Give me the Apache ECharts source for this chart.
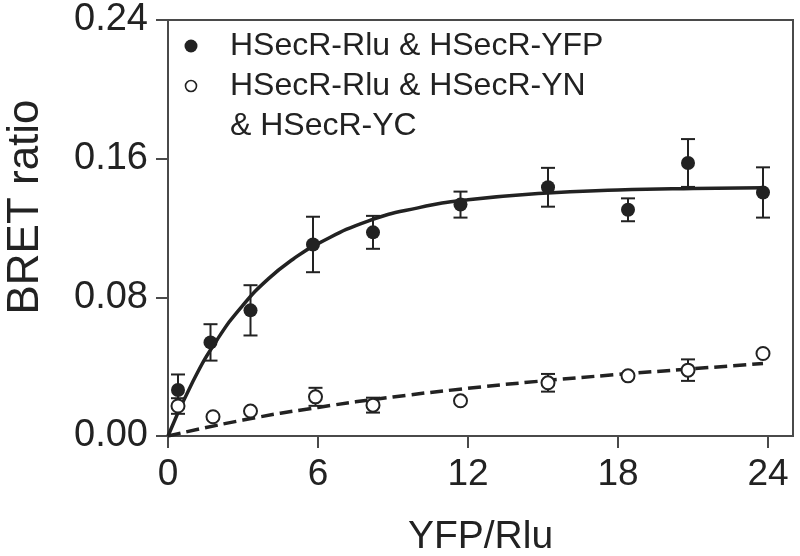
<!DOCTYPE html>
<html>
<head>
<meta charset="utf-8">
<script src="https://cdn.jsdelivr.net/npm/echarts@6/dist/echarts.min.js"></script>
<style>
  html, body { margin: 0; padding: 0; background: #fff; }
  #chart { width: 800px; height: 556px; }
</style>
</head>
<body>
<div id="chart"></div>
<script>
  // data
  const xTicks = [0, 6, 12, 18, 24]
  const yTicks = [0, 0.08, 0.16, 0.24]

  // HSecR-Rlu & HSecR-YFP (filled)
  const xFilled = [0.4, 1.7, 3.3, 5.8, 8.2, 11.7, 15.2, 18.4, 20.8, 23.8]
  const yFilled = [0.0265, 0.054, 0.0725, 0.1105, 0.1175, 0.1335, 0.1435, 0.1305, 0.1575, 0.1405]
  const errFilled = [0.009, 0.0105, 0.0145, 0.016, 0.0095, 0.0075, 0.0112, 0.0066, 0.0138, 0.0145]

  // HSecR-Rlu & HSecR-YN & HSecR-YC (open)
  const xOpen = [0.4, 1.8, 3.3, 5.9, 8.2, 11.7, 15.2, 18.4, 20.8, 23.8]
  const yOpen = [0.0173, 0.0111, 0.0144, 0.0226, 0.0178, 0.0203, 0.0307, 0.0347, 0.038, 0.0476]
  const errOpen = [0.0045, 0, 0, 0.0052, 0.0043, 0, 0.0051, 0, 0.0062, 0]

  // fitted curves (traced)
  const fitFilledX = [0, 1, 2, 3, 4, 5, 6, 8, 10, 12, 15, 18, 21, 23.8]
  const fitFilledY = [0, 0.0316, 0.0563, 0.0755, 0.0905, 0.102, 0.111, 0.124, 0.1316, 0.1363, 0.1401, 0.1419, 0.1428, 0.1432]
  const fitOpenX = [0, 3, 6, 9, 12, 15, 18, 21, 23.8]
  const fitOpenY = [0, 0.0092, 0.0165, 0.0225, 0.0275, 0.0318, 0.0355, 0.0388, 0.0418]

  const legendNames = ['HSecR-Rlu & HSecR-YFP', 'HSecR-Rlu & HSecR-YN', '& HSecR-YC']
  const xName = 'YFP/Rlu'
  const yName = 'BRET ratio'

  const ink = '#222'
  const axisInk = '#4a4a4a'
  const font = 'Liberation Sans, Arial, Helvetica, sans-serif'

  const zip = (a, b) => a.map((v, i) => [v, b[i]])
  const errData = (xs, ys, es) => xs.map((x, i) => [x, ys[i] - es[i], ys[i] + es[i], es[i]])

  function renderErrorBar(params, api) {
    if (api.value(3) <= 0) return
    const top = api.coord([api.value(0), api.value(2)])
    const bot = api.coord([api.value(0), api.value(1)])
    const half = 7
    const style = { stroke: ink, lineWidth: 2 }
    return {
      type: 'group',
      children: [
        { type: 'line', shape: { x1: top[0], y1: top[1], x2: bot[0], y2: bot[1] }, style },
        { type: 'line', shape: { x1: top[0] - half, y1: top[1], x2: top[0] + half, y2: top[1] }, style },
        { type: 'line', shape: { x1: bot[0] - half, y1: bot[1], x2: bot[0] + half, y2: bot[1] }, style }
      ]
    }
  }

  const chart = echarts.init(document.getElementById('chart'))
  const option = {
    animation: false,
    backgroundColor: '#fff',
    grid: {
      left: 168, right: 7, top: 20, bottom: 120,
      outerBoundsMode: 'none',
      show: true, borderColor: axisInk, borderWidth: 2
    },
    xAxis: {
      type: 'value',
      min: 0,
      max: 25,
      splitLine: { show: false },
      axisLine: { onZero: false, lineStyle: { color: axisInk, width: 2 } },
      axisTick: { customValues: xTicks, length: 12, lineStyle: { color: axisInk, width: 2 } },
      axisLabel: { customValues: xTicks, color: ink, fontSize: 37, fontFamily: font, margin: 20 },
      name: xName,
      nameLocation: 'middle',
      nameGap: 82,
      nameTextStyle: { color: ink, fontSize: 39, fontFamily: font }
    },
    yAxis: {
      type: 'value',
      min: 0,
      max: 0.24,
      interval: 0.08,
      splitLine: { show: false },
      axisLine: { lineStyle: { color: axisInk, width: 2 } },
      axisTick: { length: 12, lineStyle: { color: axisInk, width: 2 } },
      axisLabel: {
        color: ink, fontSize: 38, fontFamily: font, margin: 20,
        formatter: v => v.toFixed(2)
      }
    },
    graphic: [
      {
        type: 'text', x: 26, y: 207, rotation: Math.PI / 2,
        style: { text: yName, fill: ink, font: '44px ' + font, textAlign: 'center', textVerticalAlign: 'middle' }
      },
      { type: 'circle', shape: { cx: 191, cy: 46, r: 6.5 }, style: { fill: ink } },
      { type: 'circle', shape: { cx: 191, cy: 86, r: 5.5 }, style: { fill: '#fff', stroke: ink, lineWidth: 1.6 } },
      {
        type: 'text', x: 230, y: 46,
        style: { text: legendNames[0], fill: ink, font: '32px ' + font, textVerticalAlign: 'middle' }
      },
      {
        type: 'text', x: 230, y: 86,
        style: { text: legendNames[1], fill: ink, font: '32px ' + font, textVerticalAlign: 'middle' }
      },
      {
        type: 'text', x: 230, y: 126,
        style: { text: legendNames[2], fill: ink, font: '32px ' + font, textVerticalAlign: 'middle' }
      }
    ],
    series: [
      {
        type: 'line',
        data: zip(fitFilledX, fitFilledY),
        smooth: true,
        showSymbol: false,
        lineStyle: { color: ink, width: 3.5 },
        z: 2
      },
      {
        type: 'line',
        data: zip(fitOpenX, fitOpenY),
        smooth: true,
        showSymbol: false,
        lineStyle: { color: ink, width: 3.5, type: [13, 6] },
        z: 2
      },
      {
        type: 'custom',
        renderItem: renderErrorBar,
        data: errData(xFilled, yFilled, errFilled),
        encode: { x: 0, y: [1, 2] },
        z: 3
      },
      {
        type: 'custom',
        renderItem: renderErrorBar,
        data: errData(xOpen, yOpen, errOpen),
        encode: { x: 0, y: [1, 2] },
        z: 3
      },
      {
        name: legendNames[0],
        type: 'scatter',
        data: zip(xFilled, yFilled),
        symbol: 'circle',
        symbolSize: 14,
        itemStyle: { color: ink, opacity: 1 },
        z: 4
      },
      {
        name: legendNames[1],
        type: 'scatter',
        data: zip(xOpen, yOpen),
        symbol: 'circle',
        symbolSize: 13,
        itemStyle: { color: '#fff', borderColor: ink, borderWidth: 2, opacity: 1 },
        z: 4
      }
    ]
  }
  chart.setOption(option)
</script>
</body>
</html>
